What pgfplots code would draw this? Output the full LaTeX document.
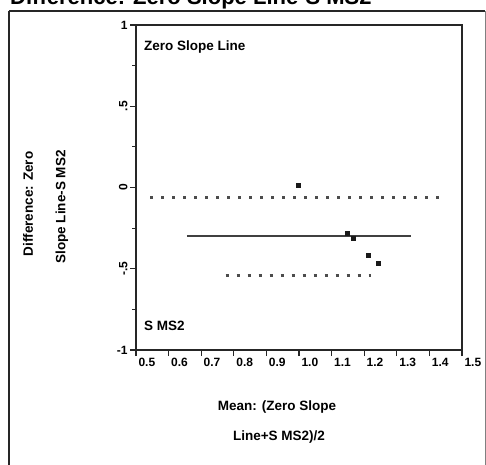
\documentclass[border=0pt]{standalone}
\usepackage{pgfplots}
\pgfplotsset{compat=1.18}
\usepackage{fontspec}
\setmainfont{Liberation Sans}
\begin{document}
\begin{tikzpicture}[x=1pt,y=1pt]
\useasboundingbox (0,0) rectangle (486,-464);
% outer frame
\draw[line width=1.6pt, black!85] (9,-11) -- (485,-11);
\draw[line width=1.6pt, black!85] (9,-11) -- (9,-470);
\draw[line width=1pt, black!50] (485,-11) -- (485,-470);
% title (cut off at the top, as in the reference)
\node[anchor=base west, font=\fontsize{22}{24}\selectfont\bfseries, inner sep=0pt] at (10,-4) {Difference: Zero Slope Line-S MS2};
\begin{axis}[
  at={(136pt,-350pt)}, anchor=south west,
  scale only axis, width=326pt, height=325pt,
  xmin=0.5, xmax=1.5, ymin=-1, ymax=1,
  axis line style={line width=1.4pt, black!85},
  xtick={0.5,0.6,0.7,0.8,0.9,1.0,1.1,1.2,1.3,1.4,1.5},
  xticklabels={0.5,0.6,0.7,0.8,0.9,1.0,1.1,1.2,1.3,1.4,1.5},
  ytick={-1,-0.5,0,0.5,1},
  yticklabels={-1,\rotatebox{90}{-.5},\rotatebox{90}{0},\rotatebox{90}{.5},1},
  minor ytick={-0.75,-0.25,0.25,0.75},
  tick align=outside,
  xtick pos=bottom, ytick pos=left,
  major tick length=6pt, minor tick length=4pt,
  tick style={line width=1.1pt, black!85},
  xticklabel style={font=\fontsize{12}{13}\selectfont\bfseries, anchor=north west, xshift=-1pt, yshift=1pt},
  yticklabel style={font=\fontsize{12}{13}\selectfont\bfseries, xshift=1pt},
  clip=false,
]
% upper limit of agreement
\addplot[black!70, line width=3.2pt, dash pattern=on 3.2pt off 7.8pt] coordinates {(0.543,-0.06) (1.448,-0.06)};
% lower limit of agreement
\addplot[black!70, line width=3.2pt, dash pattern=on 3.2pt off 7.8pt] coordinates {(0.775,-0.54) (1.222,-0.54)};
% mean difference
\addplot[black!75, line width=2.4pt] coordinates {(0.656,-0.30) (1.344,-0.30)};
% data points
\addplot[only marks, mark=square*, mark size=2pt, black!90] coordinates {
(0.998,0.015) (1.148,-0.28) (1.167,-0.315) (1.213,-0.415) (1.243,-0.465)};
\end{axis}
% in-plot labels
\node[anchor=west, font=\fontsize{13.5}{14}\selectfont\bfseries, inner sep=0pt] at (144,-47) {Zero Slope Line};
\node[anchor=west, font=\fontsize{13.5}{14}\selectfont\bfseries, inner sep=0pt] at (144,-326) {S MS2};
% axis titles
\node[rotate=90, font=\fontsize{13.5}{14}\selectfont\bfseries] at (28,-204) {Difference: Zero};
\node[rotate=90, font=\fontsize{13.5}{14}\selectfont\bfseries] at (62,-207) {Slope Line-S MS2};
\node[font=\fontsize{13.5}{14}\selectfont\bfseries] at (277,-407) {Mean: (Zero Slope};
\node[font=\fontsize{13.5}{14}\selectfont\bfseries] at (279,-437) {Line+S MS2)/2};
\end{tikzpicture}
\end{document}
